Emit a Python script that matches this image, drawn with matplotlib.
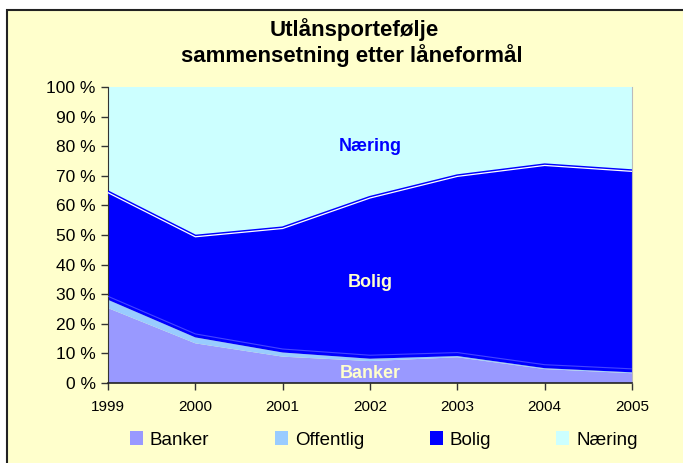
import numpy as np
import matplotlib
matplotlib.use('Agg')
import matplotlib.pyplot as plt
import matplotlib.transforms as mtransforms
from matplotlib.patches import Rectangle

plt.rcParams['font.family'] = ['Liberation Sans', 'DejaVu Sans']

# andeler i prosent, lest av grafen
years = [1999, 2000, 2001, 2002, 2003, 2004, 2005]
banker = [25.3, 13.4, 8.9, 7.4, 8.7, 4.7, 3.3]
offentlig = [2.8, 2.0, 1.4, 0.8, 0.4, 0.3, 0.3]
bolig = [36.2, 34.0, 41.9, 54.3, 60.7, 68.5, 67.9]
naering = [35.7, 50.6, 47.8, 37.5, 30.2, 26.5, 28.5]
series_names = ['Banker', 'Offentlig', 'Bolig', 'Næring']
colors = ['#9999FF', '#99CCFF', '#0000FF', '#CCFFFF']
yticks = [0, 10, 20, 30, 40, 50, 60, 70, 80, 90, 100]

fig = plt.figure(figsize=(6.83, 4.63), dpi=100)
fig.patch.set_facecolor('white')
# ramme rundt diagrammet
fig.patches.append(Rectangle((7 / 683, -0.05), 1.2, 1 - 10 / 463 + 0.05,
                             transform=fig.transFigure, facecolor='#FFFFCC',
                             edgecolor='#222222', linewidth=1.5, zorder=-5))

ax = fig.add_axes([108 / 683, 1 - 383 / 463, 524 / 683, 296 / 463])
ax.set_zorder(2)
polys = ax.stackplot(years, banker, offentlig, bolig, naering, colors=colors,
                     labels=series_names, linewidth=0)

cum = np.cumsum(np.array([banker, offentlig, bolig]), axis=0)
# svak kantlinje inni Bolig-feltet
off = mtransforms.offset_copy(ax.transData, fig=fig, x=0, y=3.5, units='dots')
ax.plot(years, cum[1], color='#4444FF', lw=0.8, transform=off, zorder=3)
# hvit dobbelkant på toppen av Bolig
ax.plot(years, cum[2], color='#0000FF', lw=3.0, zorder=3, solid_joinstyle='miter')
ax.plot(years, cum[2], color='white', lw=0.9, zorder=4)

ax.set_xlim(1999, 2005)
ax.set_ylim(0, 100)
ax.set_xticks(years)
ax.set_xticklabels([str(y) for y in years], fontsize=11)
ax.set_yticks(yticks)
ax.set_yticklabels(['%d %%' % v for v in yticks], fontsize=12.5)
ax.tick_params(direction='out', length=5, width=1, color='#333333', pad=4)
ax.tick_params(axis='x', pad=7)
ax.spines['top'].set_visible(False)
ax.spines['right'].set_color('#bbbbbb')
ax.spines['right'].set_linewidth(0.8)
ax.spines['left'].set_color('#333333')
ax.spines['bottom'].set_color('#222222')
ax.spines['bottom'].set_linewidth(1.2)
ax.set_facecolor('#FFFFCC')

ax.text(2002.0, 80, 'Næring', color='#0000FF', fontsize=13, fontweight='bold',
        ha='center', va='center')
ax.text(2002.0, 34, 'Bolig', color='#FFFFCC', fontsize=13, fontweight='bold',
        ha='center', va='center')
ax.text(2002.0, 3.3, 'Banker', color='#FFFFCC', fontsize=13, fontweight='bold',
        ha='center', va='center')

fig.text(0.518, 1 - 30 / 463, 'Utlånsportefølje', fontsize=16, fontweight='bold',
         ha='center', va='center')
fig.text(0.515, 1 - 56 / 463, 'sammensetning etter låneformål', fontsize=16,
         fontweight='bold', ha='center', va='center')

leg = fig.legend(handles=polys, labels=series_names, loc='center',
                 bbox_to_anchor=(0.562, 1 - 440 / 463), ncol=4, frameon=False,
                 fontsize=13.5, handlelength=0.7, handleheight=0.7,
                 handletextpad=0.35, columnspacing=3.5)

fig.savefig('out.png', dpi=100)
